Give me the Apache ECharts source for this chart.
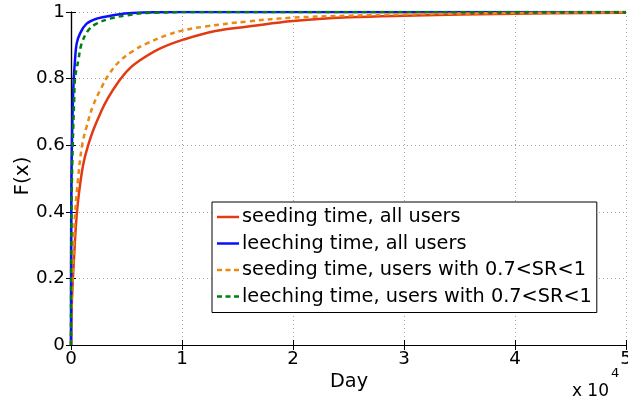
<!DOCTYPE html>
<html>
<head>
<meta charset="utf-8">
<script src="https://cdn.jsdelivr.net/npm/echarts@6/dist/echarts.min.js"></script>
<style>html,body{margin:0;padding:0;background:#fff}#c{width:628px;height:403px}</style>
</head>
<body>
<div id="c"></div>
<script>
// Series names
const seriesNames = [
  'seeding time, all users',
  'leeching time, all users',
  'seeding time, users with 0.7<SR<1',
  'leeching time, users with 0.7<SR<1'
];
// x values in days, y = CDF
const seedAllX = [0, 30, 100, 270, 513, 811, 1150, 1550, 2000, 2700, 3300, 4264, 5200, 6216, 8000, 10120, 13000, 16126, 20000, 25000, 30000, 40000, 50000];
const seedAllY = [0, 0.07, 0.15, 0.26, 0.39, 0.48, 0.55, 0.6, 0.645, 0.7, 0.74, 0.79, 0.828, 0.855, 0.89, 0.917, 0.943, 0.957, 0.973, 0.984, 0.989, 0.995, 0.998];

const leechAllX = [0, 5, 15, 30, 60, 100, 170, 250, 360, 510, 810, 1410, 2310, 3800, 5500, 10000, 50000];
const leechAllY = [0, 0.2, 0.35, 0.45, 0.55, 0.63, 0.73, 0.8, 0.855, 0.905, 0.935, 0.965, 0.98, 0.99, 0.997, 1, 1];

const seedSRX = [0, 40, 150, 250, 380, 640, 1000, 1400, 2000, 2700, 3400, 4400, 5600, 6800, 8600, 10000, 12000, 16000, 20000, 25000, 30000, 40000, 50000];
const seedSRY = [0, 0.1, 0.2, 0.3, 0.4, 0.5, 0.6, 0.655, 0.72, 0.77, 0.812, 0.853, 0.883, 0.905, 0.93, 0.944, 0.956, 0.972, 0.983, 0.989, 0.993, 0.997, 0.999];

const leechSRX = [0, 10, 30, 60, 120, 200, 290, 360, 660, 960, 1560, 2310, 3510, 5020, 6800, 12000, 50000];
const leechSRY = [0, 0.2, 0.35, 0.45, 0.55, 0.65, 0.74, 0.8, 0.855, 0.905, 0.945, 0.965, 0.98, 0.99, 0.997, 1, 1];

const xTicks = [0, 10000, 20000, 30000, 40000, 50000];
const yTicks = [0, 0.2, 0.4, 0.6, 0.8, 1];

const FONT = 'DejaVu Sans';
function pairs(xs, ys) { return xs.map((x, i) => [x, ys[i]]); }

const chart = echarts.init(document.getElementById('c'), null, {renderer: 'canvas'});
const gridLine = {show: true, lineStyle: {color: '#a8a8a8', type: [1, 3], width: 1}};
const axisLineBlack = {show: true, lineStyle: {color: '#000', width: 1.2}};
const tickIn = {show: true, inside: true, length: 5, lineStyle: {color: '#000', width: 1}};

const colors = ['#e23a12', '#0a10ff', '#ea8a12', '#00800a'];
const solidIcon = 'path://M0,0h22v2.5h-22z';
const dashIcon = 'path://M0,0h5v2.5h-5z M8.5,0h5v2.5h-5z M17,0h5v2.5h-5z';

function line(name, xs, ys, color, dashed) {
  return {
    name, type: 'line', xAxisIndex: 0, yAxisIndex: 0,
    data: pairs(xs, ys), symbol: 'none', smooth: 0.4,
    lineStyle: {color, width: 2.5, type: dashed ? [5, 4] : 'solid'},
    itemStyle: {color}, z: 3, silent: true
  };
}

chart.setOption({
  animation: false,
  backgroundColor: '#fff',
  grid: {left: 71, top: 12, width: 555, height: 333, show: false, containLabel: false, outerBoundsMode: 'none'},
  xAxis: [{
    type: 'value', min: xTicks[0], max: xTicks[xTicks.length - 1], interval: xTicks[1] - xTicks[0],
    position: 'bottom', axisLine: axisLineBlack, axisTick: tickIn, splitLine: gridLine,
    axisLabel: {color: '#000', fontFamily: FONT, fontSize: 18.3, margin: 5,
      formatter: v => String(v / 10000)}
  }, {
    type: 'value', min: xTicks[0], max: xTicks[xTicks.length - 1], interval: xTicks[1] - xTicks[0],
    position: 'top', axisLine: axisLineBlack, axisTick: tickIn, splitLine: {show: false},
    axisLabel: {show: false}
  }],
  yAxis: [{
    type: 'value', min: yTicks[0], max: yTicks[yTicks.length - 1], interval: 0.2,
    position: 'left', axisLine: axisLineBlack, axisTick: tickIn, splitLine: gridLine,
    axisLabel: {color: '#000', fontFamily: FONT, fontSize: 18.3, margin: 6}
  }, {
    type: 'value', min: yTicks[0], max: yTicks[yTicks.length - 1], interval: 0.2,
    position: 'right', axisLine: axisLineBlack, axisTick: tickIn, splitLine: {show: false},
    axisLabel: {show: false}
  }],
  legend: {
    show: true, orient: 'vertical', left: 212, top: 202,
    backgroundColor: '#fff', borderColor: '#000', borderWidth: 1,
    padding: [5, 5, 6, 5],
    itemWidth: 22, itemHeight: 14, itemGap: 6.5, symbolKeepAspect: true,
    textStyle: {color: '#000', fontFamily: FONT, fontSize: 19.3, lineHeight: 20, padding: [0, 0, 0, -2]},
    data: [
      {name: seriesNames[0], icon: solidIcon},
      {name: seriesNames[1], icon: solidIcon},
      {name: seriesNames[2], icon: dashIcon},
      {name: seriesNames[3], icon: dashIcon}
    ]
  },
  series: [
    line(seriesNames[0], seedAllX, seedAllY, colors[0], false),
    line(seriesNames[1], leechAllX, leechAllY, colors[1], false),
    line(seriesNames[2], seedSRX, seedSRY, colors[2], true),
    line(seriesNames[3], leechSRX, leechSRY, colors[3], true)
  ],
  graphic: [
    {type: 'text', x: 23, y: 176, rotation: Math.PI / 2,
      style: {text: 'F(x)', fill: '#000', font: '20px "DejaVu Sans"', align: 'center', verticalAlign: 'middle'}},
    {type: 'text', x: 349, y: 382,
      style: {text: 'Day', fill: '#000', font: '19.3px "DejaVu Sans"', align: 'center', verticalAlign: 'middle'}},
    {type: 'text', x: 609, y: 392,
      style: {text: 'x 10', fill: '#000', font: '17px "DejaVu Sans"', align: 'right', verticalAlign: 'middle'}},
    {type: 'text', x: 611, y: 374,
      style: {text: '4', fill: '#000', font: '13px "DejaVu Sans"', align: 'left', verticalAlign: 'middle'}}
  ]
});
</script>
</body>
</html>
